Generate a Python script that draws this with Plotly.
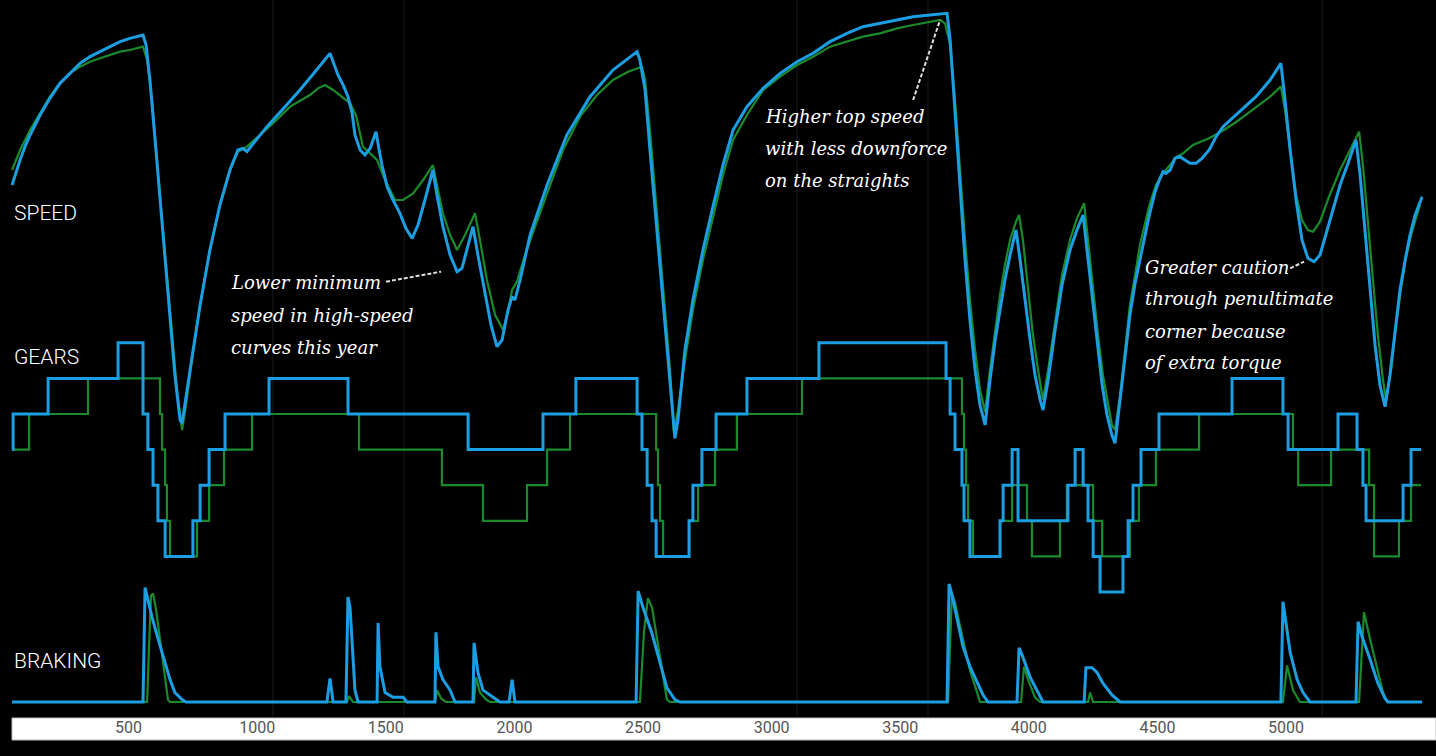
import plotly.graph_objects as go

# lap distance in metres
TICKS = [500, 1000, 1500, 2000, 2500, 3000, 3500, 4000, 4500, 5000]
SECTOR_MARKS = [1061, 1571, 3099, 3608, 5140]

# speed (km/h) - this year (blue)
speed_d_new = [47, 62, 78, 97, 117, 156, 194, 233, 272, 311, 350, 389, 428, 467, 505, 556,
               568, 583, 603, 622, 642, 661, 680, 700, 708, 739, 778, 816, 855, 894, 925, 945,
               960, 980, 1038, 1108, 1166, 1225, 1283, 1295, 1314, 1334, 1353, 1369, 1380, 1400,
               1419, 1439, 1462, 1474, 1485, 1505, 1528, 1555, 1578, 1602, 1625, 1652, 1683, 1699,
               1722, 1750, 1777, 1796, 1820, 1839, 1858, 1886, 1909, 1932, 1952, 1975, 1991, 2002,
               2022, 2061, 2127, 2204, 2294, 2383, 2477, 2488, 2508, 2527, 2547, 2566, 2585, 2605,
               2624, 2636, 2663, 2694, 2733, 2772, 2811, 2850, 2904, 2967, 3033, 3099, 3161, 3227,
               3293, 3355, 3421, 3488, 3550, 3616, 3682, 3694, 3713, 3732, 3752, 3771, 3791, 3810,
               3830, 3849, 3869, 3888, 3907, 3927, 3950, 3966, 3985, 4005, 4024, 4044, 4055, 4075,
               4102, 4129, 4160, 4187, 4211, 4226, 4246, 4265, 4285, 4304, 4323, 4335, 4355, 4374,
               4393, 4413, 4432, 4452, 4467, 4491, 4510, 4522, 4533, 4549, 4568, 4588, 4607, 4627,
               4650, 4673, 4701, 4728, 4755, 4821, 4883, 4938, 4980, 4996, 5016, 5039, 5062, 5085,
               5109, 5132, 5155, 5183, 5210, 5241, 5272, 5288, 5307, 5327, 5346, 5365, 5385, 5404,
               5424, 5443, 5463, 5482, 5502, 5529]
speed_new = [229, 237, 244, 252, 259, 271, 281, 290, 296, 302, 306, 309, 312, 315, 317, 319,
             313, 292, 256, 220, 184, 148, 115, 88, 86, 118, 157, 190, 217, 238, 250, 251,
             249, 253, 264, 276, 286, 297, 308, 303, 295, 289, 282, 272, 259, 250,
             247, 251, 261, 250, 241, 228, 220, 212, 203, 197, 205, 220, 238, 223,
             204, 187, 177, 179, 193, 204, 187, 163, 145, 132, 136, 154, 162, 160,
             172, 199, 229, 259, 282, 298, 309, 304, 286, 250, 214, 178, 142, 106,
             77, 88, 130, 160, 190, 216, 241, 262, 276, 287, 296, 303, 308, 315,
             320, 324, 326, 328, 330, 331, 332, 316, 274, 226, 184, 148, 118, 97,
             85, 112, 136, 154, 172, 187, 202, 184, 160, 136, 115, 100, 94, 112,
             142, 169, 190, 202, 211, 190, 160, 133, 109, 91, 79, 74, 100, 124,
             151, 170, 185, 199, 210, 225, 233, 237, 236, 238, 245, 246, 244, 242,
             242, 245, 250, 258, 264, 273, 282, 292, 302, 280, 250, 220, 196, 185,
             183, 187, 199, 214, 229, 242, 256, 235, 202, 166, 133, 109, 96, 115,
             142, 166, 184, 199, 211, 222]

# speed (km/h) - last year (green)
speed_d_old = [47, 78, 117, 156, 194, 233, 272, 311, 350, 389, 428, 467, 505, 556, 572, 591,
               610, 630, 649, 669, 688, 708, 723, 746, 778, 816, 855, 894, 925, 960, 1011, 1061,
               1128, 1205, 1236, 1264, 1295, 1330, 1361, 1384, 1411, 1439, 1466, 1497, 1536, 1567,
               1606, 1645, 1683, 1703, 1722, 1750, 1777, 1808, 1847, 1866, 1893, 1925, 1956, 1975,
               1991, 2010, 2041, 2127, 2189, 2255, 2321, 2383, 2442, 2496, 2508, 2527, 2547, 2566,
               2585, 2605, 2620, 2636, 2663, 2694, 2733, 2772, 2811, 2850, 2904, 2967, 3033, 3099,
               3161, 3227, 3293, 3355, 3421, 3488, 3550, 3616, 3655, 3674, 3694, 3713, 3732, 3752,
               3771, 3791, 3810, 3830, 3849, 3869, 3888, 3907, 3927, 3950, 3962, 3977, 3997, 4016,
               4036, 4055, 4075, 4102, 4129, 4160, 4187, 4215, 4230, 4250, 4269, 4288, 4308, 4323,
               4335, 4355, 4374, 4393, 4413, 4432, 4467, 4494, 4522, 4549, 4576, 4600, 4638, 4701,
               4759, 4817, 4879, 4938, 4980, 4996, 5016, 5039, 5062, 5085, 5105, 5132, 5167, 5210,
               5249, 5284, 5299, 5319, 5338, 5357, 5377, 5389, 5408, 5428, 5447, 5466, 5486, 5505,
               5521]
speed_old = [238, 250, 262, 272, 282, 290, 296, 300, 303, 305, 307, 309, 310, 312, 304, 280,
             244, 208, 172, 136, 106, 82, 97, 124, 157, 190, 217, 238, 249, 252, 259, 266,
             276, 283, 287, 289, 286, 282, 278, 271, 252, 248, 244, 232, 220, 220,
             224, 232, 241, 226, 212, 199, 190, 199, 212, 196, 172, 151, 142, 153,
             166, 171, 187, 224, 250, 270, 283, 292, 297, 300, 292, 262, 226, 190,
             154, 118, 81, 94, 124, 154, 184, 210, 235, 256, 271, 286, 294, 301,
             306, 312, 315, 318, 320, 323, 325, 327, 328, 326, 313, 280, 238, 196,
             160, 130, 106, 93, 118, 142, 163, 181, 196, 207, 211, 196, 166, 139,
             118, 100, 118, 148, 175, 196, 209, 218, 196, 166, 139, 115, 97, 85,
             82, 103, 130, 157, 175, 193, 216, 229, 236, 241, 246, 248, 253, 257,
             262, 268, 275, 282, 288, 274, 250, 223, 208, 202, 201, 207, 222, 238,
             250, 261, 241, 208, 172, 139, 112, 100, 118, 145, 167, 185, 199, 209,
             217]

# gear changes (distance where the gear is engaged)
gear_d_new = [47, 51, 187, 459, 556, 575, 595, 614, 642, 750, 778, 813, 875, 1046, 1353, 1820,
              2111, 2239, 2477, 2496, 2516, 2535, 2551, 2679, 2694, 2729, 2784, 2904, 3184, 3678,
              3694, 3713, 3740, 3748, 3771, 3888, 3900, 3935, 3958, 4152, 4180, 4211, 4230, 4250,
              4277, 4366, 4386, 4405, 4436, 4506, 4790, 4988, 5008, 5202, 5276, 5299, 5311, 5455,
              5486, 5525]
gear_new = [5, 6, 7, 8, 6, 5, 4, 3, 2, 3, 4, 5, 6, 7, 6, 5,
            6, 7, 6, 5, 4, 3, 2, 3, 4, 5, 6, 7, 8, 7,
            6, 5, 4, 3, 2, 3, 4, 5, 3, 4, 5, 4, 3, 2,
            1, 2, 3, 4, 5, 6, 7, 6, 5, 6, 5, 4, 3, 4,
            5, 5]
gear_d_old = [47, 113, 342, 622, 630, 642, 649, 661, 766, 813, 871, 980, 1396, 1718, 1878, 2049,
              2127, 2216, 2551, 2558, 2566, 2578, 2679, 2714, 2780, 2865, 3118, 3740, 3748, 3756,
              3764, 3783, 3888, 3935, 3993, 4012, 4121, 4148, 4250, 4285, 4393, 4428, 4494, 4662,
              5027, 5047, 5175, 5323, 5342, 5439, 5486, 5525]
gear_old = [5, 6, 7, 6, 5, 4, 3, 2, 3, 4, 5, 6, 5, 4, 3, 4,
            5, 6, 5, 4, 3, 2, 3, 4, 5, 6, 7, 6, 5, 4,
            3, 2, 3, 4, 3, 2, 3, 4, 3, 2, 3, 4, 5, 6,
            5, 4, 5, 4, 2, 3, 4, 4]

# brake pressure (%)
brake_d_new = [47, 556, 564, 575, 591, 614, 638, 661, 680, 708, 723,
               1271, 1283, 1295, 1345, 1353, 1361, 1369, 1380, 1392,
               1466, 1470, 1477, 1497, 1528, 1567, 1582,
               1691, 1695, 1703, 1722, 1750, 1769,
               1839, 1843, 1858, 1878, 1917, 1944, 1979, 1991, 2002,
               2473, 2481, 2500, 2535, 2570, 2593, 2624, 2644,
               3682, 3690, 3701, 3721, 3744, 3771, 3799, 3822, 3841,
               3954, 3962, 3977, 4005, 4032, 4055,
               4215, 4222, 4246, 4265, 4288, 4323, 4355,
               4980, 4988, 4996, 5016, 5043, 5066, 5093,
               5272, 5280, 5296, 5327, 5357, 5385, 5396, 5529]
brake_new = [0, 0, 97, 86, 72, 54, 36, 19, 8, 2, 0,
             0, 20, 0, 0, 89, 80, 47, 10, 0,
             0, 67, 30, 8, 4, 4, 0,
             0, 59, 30, 19, 10, 0,
             0, 50, 25, 10, 4, 0, 0, 19, 0,
             0, 94, 80, 58, 30, 12, 2, 0,
             0, 100, 91, 69, 47, 30, 16, 6, 0,
             0, 46, 38, 21, 10, 0,
             0, 29, 29, 25, 16, 6, 0,
             0, 85, 72, 42, 19, 8, 0,
             0, 68, 55, 36, 16, 3, 0, 0]
brake_d_old = [47, 572, 579, 587, 595, 607, 622, 638, 653, 661,
               1349, 1357, 1372, 1691, 1699, 1715, 1734,
               1843, 1851, 1866, 1890, 1905,
               2488, 2504, 2519, 2535, 2554, 2578, 2593, 2605,
               3686, 3701, 3713, 3744, 3771, 3799, 3810,
               3970, 3981, 3997, 4024, 4044, 4230, 4238, 4250,
               4988, 5004, 5027, 5054,
               5284, 5303, 5327, 5354, 5377, 5393, 5529]
brake_old = [0, 0, 44, 90, 92, 78, 53, 25, 2, 0,
             0, 5, 0, 0, 10, 3, 0,
             0, 21, 8, 2, 0,
             0, 60, 88, 80, 55, 20, 2, 0,
             0, 92, 84, 53, 27, 8, 0,
             0, 30, 19, 4, 0, 0, 8, 0,
             0, 31, 10, 0,
             0, 76, 53, 30, 8, 0, 0]

BLUE = '#1c9ee3'
GREEN = '#1b8a2c'
W, H = 1436, 756
PLOT_H = 716

fig = go.Figure()
for dist, vals, color, width, axis, shape in [
        (speed_d_old, speed_old, GREEN, 2.2, 'y', 'linear'),
        (speed_d_new, speed_new, BLUE, 3, 'y', 'linear'),
        (gear_d_old, gear_old, GREEN, 2.2, 'y2', 'hv'),
        (gear_d_new, gear_new, BLUE, 3, 'y2', 'hv'),
        (brake_d_old, brake_old, GREEN, 2.2, 'y3', 'linear'),
        (brake_d_new, brake_new, BLUE, 3, 'y3', 'linear')]:
    fig.add_trace(go.Scatter(x=dist, y=vals, yaxis=axis, mode='lines',
                             line=dict(color=color, width=width, shape=shape),
                             hoverinfo='skip', showlegend=False))

shapes = []
for d in SECTOR_MARKS:
    shapes.append(dict(type='line', xref='x', yref='paper', x0=d, x1=d, y0=0, y1=1,
                       line=dict(color='#1c1c1c', width=1), layer='below'))
# white distance scale
shapes.append(dict(type='rect', xref='paper', yref='paper', x0=12 / W, x1=1,
                   y0=-24 / PLOT_H, y1=-2 / PLOT_H, fillcolor='white',
                   line=dict(color='#bbbbbb', width=1), layer='below'))
# annotation leader lines (distance, km/h)
for x0, y0, x1, y1 in [(1501, 171, 1715, 177), (3550, 280, 3655, 328), (5016, 179, 5070, 183)]:
    shapes.append(dict(type='line', xref='x', yref='y', x0=x0, y0=y0, x1=x1, y1=y1,
                       line=dict(color='#e0e0e0', width=2, dash='4px,2px')))

annotations = []
for text, py in [('SPEED', 213), ('GEARS', 357), ('BRAKING', 661)]:
    annotations.append(dict(text=text, xref='paper', yref='paper', x=12 / W, y=1 - py / PLOT_H,
                            xanchor='left', yanchor='middle', showarrow=False,
                            font=dict(family='Roboto', size=21, color='white', weight=300)))

notes = [
    (229, 283, ['Lower minimum', 'speed in high-speed', 'curves this year']),
    (763, 116, ['Higher top speed', 'with less downforce', 'on the straights']),
    (1143, 267, ['Greater caution', 'through penultimate', 'corner because', 'of extra torque']),
]
for px, py, lines in notes:
    for i, line in enumerate(lines):
        annotations.append(dict(text=line, xref='paper', yref='paper', x=px / W,
                                y=1 - (py + 32 * i) / PLOT_H, xanchor='left', yanchor='middle',
                                showarrow=False,
                                font=dict(family='DejaVu Serif', size=18, color='white',
                                          style='italic')))

fig.update_layout(
    width=W, height=H,
    margin=dict(l=0, r=0, t=0, b=H - PLOT_H, pad=0),
    paper_bgcolor='black', plot_bgcolor='black',
    showlegend=False,
    xaxis=dict(range=[0, 5583], showgrid=False, zeroline=False, showline=False,
               tickvals=TICKS, ticks='', tickfont=dict(family='Roboto', size=16, color='#555555')),
    yaxis=dict(range=[-89.6, 340], visible=False),
    yaxis2=dict(range=[-2.483, 17.63], overlaying='y', visible=False),
    yaxis3=dict(range=[-11.86, 594.9], overlaying='y', visible=False),
    shapes=shapes, annotations=annotations,
)

fig.write_html("out.html", config={'displayModeBar': False},
               post_script="document.body.style.margin='0';document.body.style.background='black';")
